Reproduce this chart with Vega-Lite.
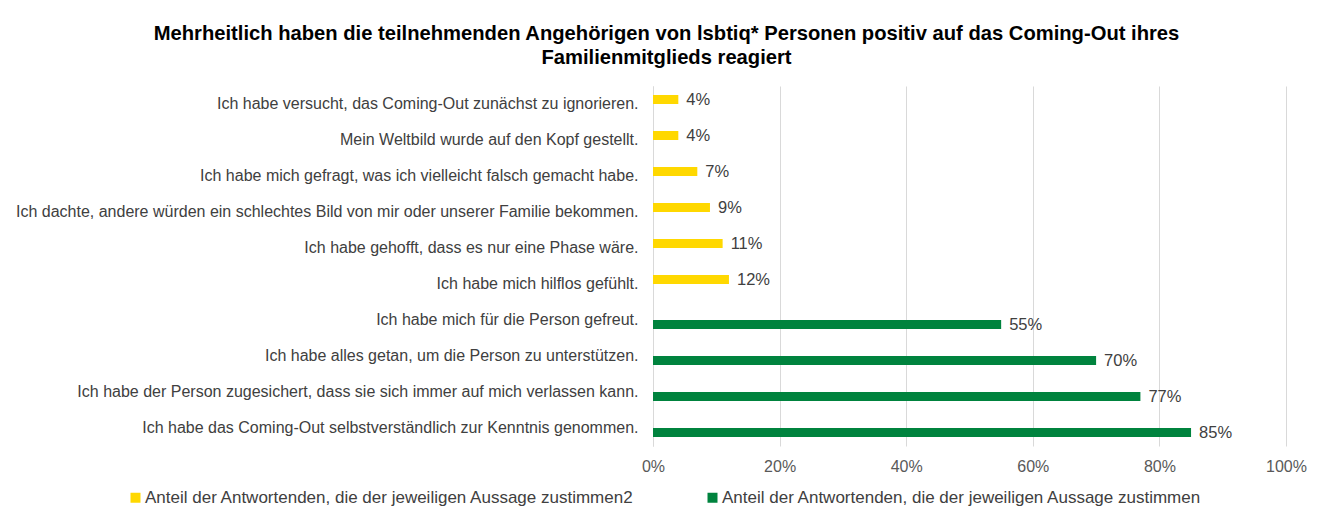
{
  "$schema": "https://vega.github.io/schema/vega-lite/v6.json",
  "autosize": "none",
  "width": 633,
  "height": 360,
  "padding": {"left": 653, "top": 86, "right": 45, "bottom": 69},
  "background": "white",
  "title": {
    "text": ["Mehrheitlich haben die teilnehmenden Angehörigen von lsbtiq* Personen positiv auf das Coming-Out ihres", "Familienmitglieds reagiert"],
    "font": "Liberation Sans",
    "fontSize": 20.2,
    "fontWeight": "bold",
    "color": "#000000",
    "anchor": "middle",
    "frame": "group",
    "dx": -303,
    "lineHeight": 24,
    "offset": 18
  },
  "data": {
    "values": [
      {"aussage": "Ich habe versucht, das Coming-Out zunächst zu ignorieren.", "serie": "Anteil der Antwortenden, die der jeweiligen Aussage zustimmen2", "wert": 0.04},
      {"aussage": "Mein Weltbild wurde auf den Kopf gestellt.", "serie": "Anteil der Antwortenden, die der jeweiligen Aussage zustimmen2", "wert": 0.04},
      {"aussage": "Ich habe mich gefragt, was ich vielleicht falsch gemacht habe.", "serie": "Anteil der Antwortenden, die der jeweiligen Aussage zustimmen2", "wert": 0.07},
      {"aussage": "Ich dachte, andere würden ein schlechtes Bild von mir oder unserer Familie bekommen.", "serie": "Anteil der Antwortenden, die der jeweiligen Aussage zustimmen2", "wert": 0.09},
      {"aussage": "Ich habe gehofft, dass es nur eine Phase wäre.", "serie": "Anteil der Antwortenden, die der jeweiligen Aussage zustimmen2", "wert": 0.11},
      {"aussage": "Ich habe mich hilflos gefühlt.", "serie": "Anteil der Antwortenden, die der jeweiligen Aussage zustimmen2", "wert": 0.12},
      {"aussage": "Ich habe mich für die Person gefreut.", "serie": "Anteil der Antwortenden, die der jeweiligen Aussage zustimmen", "wert": 0.55},
      {"aussage": "Ich habe alles getan, um die Person zu unterstützen.", "serie": "Anteil der Antwortenden, die der jeweiligen Aussage zustimmen", "wert": 0.70},
      {"aussage": "Ich habe der Person zugesichert, dass sie sich immer auf mich verlassen kann.", "serie": "Anteil der Antwortenden, die der jeweiligen Aussage zustimmen", "wert": 0.77},
      {"aussage": "Ich habe das Coming-Out selbstverständlich zur Kenntnis genommen.", "serie": "Anteil der Antwortenden, die der jeweiligen Aussage zustimmen", "wert": 0.85}
    ]
  },
  "encoding": {
    "y": {
      "field": "aussage",
      "type": "nominal",
      "sort": null,
      "scale": {"paddingInner": 0.5, "paddingOuter": 0.25},
      "axis": {
        "title": null,
        "ticks": false,
        "labelPadding": 15,
        "labelLimit": 700,
        "labelFont": "Liberation Sans",
        "labelFontSize": 16,
        "labelColor": "#404040",
        "domain": true,
        "domainColor": "#d9d9d9",
        "grid": false
      }
    },
    "yOffset": {
      "field": "serie",
      "type": "nominal",
      "sort": ["Anteil der Antwortenden, die der jeweiligen Aussage zustimmen2", "Anteil der Antwortenden, die der jeweiligen Aussage zustimmen"],
      "scale": {"paddingInner": 0, "paddingOuter": 0}
    },
    "x": {
      "field": "wert",
      "type": "quantitative",
      "scale": {"domain": [0, 1]},
      "axis": {
        "title": null,
        "format": ".0%",
        "values": [0, 0.2, 0.4, 0.6, 0.8, 1],
        "domain": false,
        "ticks": false,
        "labelFlush": false,
        "labelPadding": 12,
        "labelFont": "Liberation Sans",
        "labelFontSize": 16,
        "labelColor": "#595959",
        "grid": true,
        "gridColor": "#d9d9d9",
        "gridWidth": 1
      }
    }
  },
  "layer": [
    {
      "mark": {"type": "bar", "stroke": null},
      "encoding": {
        "color": {
          "field": "serie",
          "type": "nominal",
          "sort": ["Anteil der Antwortenden, die der jeweiligen Aussage zustimmen2", "Anteil der Antwortenden, die der jeweiligen Aussage zustimmen"],
          "scale": {"range": ["#FFD800", "#00833E"]},
          "legend": {
            "title": null,
            "orient": "none",
            "legendX": -526,
            "legendY": 403,
            "direction": "horizontal",
            "symbolType": "square",
            "symbolSize": 100,
            "symbolStrokeWidth": 0,
            "symbolOffset": 0,
            "labelOffset": 1,
            "labelFont": "Liberation Sans",
            "labelFontSize": 17,
            "labelColor": "#404040",
            "labelLimit": 700,
            "columnPadding": 69
          }
        }
      }
    },
    {
      "mark": {"type": "text", "align": "left", "baseline": "middle", "dx": 8, "font": "Liberation Sans", "fontSize": 16.5, "color": "#404040"},
      "encoding": {
        "text": {"field": "wert", "type": "quantitative", "format": ".0%"}
      }
    }
  ],
  "config": {
    "view": {"stroke": null}
  }
}
